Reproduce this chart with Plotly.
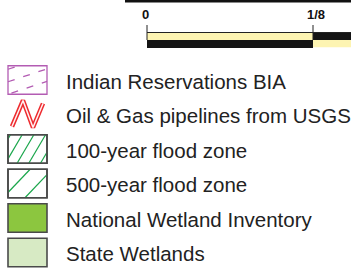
import plotly.graph_objects as go

# ---- data ----
legend_labels = [
    "Indian Reservations BIA",
    "Oil & Gas pipelines from USGS",
    "100-year flood zone",
    "500-year flood zone",
    "National Wetland Inventory",
    "State Wetlands",
]
legend_kinds = ["dashbox", "pipeline", "hatch", "hatch", "solid", "solid"]
legend_colors = ["#b35cb3", "#ee2b2f", "#1aa64b", "#1aa64b", "#8cc63f", "#d7eac4"]
hatch_spacing = [None, None, 11.7, 22, None, None]
hatch_slope = [None, None, 1.7, 1.05, None, None]
hatch_offset = [None, None, -2.6, -5, None, None]

scale_values = [0, 0.125]
scale_labels = ["0", "1/8"]

# ---- layout helpers ----
W, H = 351, 272
SW_X0, SW_X1 = 8, 47
SW_H = 28.5
Y0, DY = 80, 34.5
TEXT_X = 64
SC_X0, SC_PX_PER_UNIT = 147, (313 - 147) / 0.125
BAR_TOP, BAR_MID, BAR_BOT = 32.5, 40, 48

def sx(v):
    return SC_X0 + v * SC_PX_PER_UNIT

fig = go.Figure()
shapes = []
annotations = []

for i, (lab, kind, col) in enumerate(zip(legend_labels, legend_kinds, legend_colors)):
    yc = Y0 + i * DY
    y0, y1 = yc - SW_H / 2, yc + SW_H / 2
    if kind == "solid":
        shapes.append(dict(type="rect", x0=SW_X0, x1=SW_X1, y0=y0, y1=y1,
                           fillcolor=col, line=dict(color="#4a4a4a", width=1.6), layer="below"))
    elif kind == "hatch":
        shapes.append(dict(type="rect", x0=SW_X0, x1=SW_X1, y0=y0, y1=y1,
                           fillcolor="white", line=dict(color="#4a4a4a", width=1.6), layer="above"))
        s, sp = hatch_slope[i], hatch_spacing[i]
        xs, ys = [], []
        c = SW_X0 + hatch_offset[i] - 4 * sp
        while c < SW_X1:
            xa = max(SW_X0, c)
            xb = min(SW_X1, c + (y1 - y0) / s)
            if xb > xa:
                xs += [xa, xb, None]
                ys += [y1 - s * (xa - c), y1 - s * (xb - c), None]
            c += sp
        fig.add_trace(go.Scatter(x=xs, y=ys, mode="lines", line=dict(color=col, width=1.2),
                                 hoverinfo="skip", showlegend=False))
    elif kind == "dashbox":
        shapes.append(dict(type="rect", x0=SW_X0, x1=SW_X1, y0=y0, y1=y1,
                           fillcolor="white", line=dict(color=col, width=1.3), layer="below"))
        slope = -0.33
        for b in [y0 + 3.5, y0 + 16, y0 + 28.5]:
            xs, ys = [], []
            n = 80
            for k in range(n + 1):
                x = SW_X0 + (SW_X1 - SW_X0) * k / n
                y = b + slope * (x - SW_X0)
                if y0 + 1 <= y <= y1 - 1:
                    xs.append(x)
                    ys.append(y)
            if len(xs) > 1:
                fig.add_trace(go.Scatter(x=[xs[0], xs[-1]], y=[ys[0], ys[-1]], mode="lines",
                                         line=dict(color=col, width=1.3, dash="7px,9px"),
                                         hoverinfo="skip", showlegend=False))
    elif kind == "pipeline":
        px = [12, 23, 33, 43]
        py = [yc + 12, yc - 14, yc + 13, yc - 11]
        fig.add_trace(go.Scatter(x=px, y=py, mode="lines",
                                 line=dict(color=col, width=4.5), hoverinfo="skip", showlegend=False))
        fig.add_trace(go.Scatter(x=px, y=py, mode="lines",
                                 line=dict(color="#fff2f2", width=1.5), hoverinfo="skip", showlegend=False))
    annotations.append(dict(x=TEXT_X, y=yc + 1, xref="x", yref="y", text=lab, showarrow=False,
                            xanchor="left", yanchor="middle",
                            font=dict(family="Liberation Sans, Arial", size=20.5, color="#222")))

# hatch box outlines drawn above the hatch lines but with transparent fill
for sh in shapes:
    if sh.get("layer") == "above":
        sh["layer"] = "below"
        shapes.append(dict(type="rect", x0=sh["x0"], x1=sh["x1"], y0=sh["y0"], y1=sh["y1"],
                           fillcolor="rgba(0,0,0,0)", line=dict(color="#4a4a4a", width=1.6)))

# ---- scale bar ----
shapes.append(dict(type="rect", x0=125, x1=W + 5, y0=-1, y1=2.5, fillcolor="#111", line=dict(width=0)))
segs = list(zip(scale_values[:-1] + [scale_values[-1]], scale_values[1:] + [scale_values[-1] * 2]))
for j, (a, b) in enumerate(segs):
    top = "#fdf4b2" if j % 2 == 0 else "#141414"
    bot = "#141414" if j % 2 == 0 else "#fdf4b2"
    shapes.append(dict(type="rect", x0=sx(a), x1=sx(b), y0=BAR_TOP, y1=BAR_MID, fillcolor=top, line=dict(width=0)))
    shapes.append(dict(type="rect", x0=sx(a), x1=sx(b), y0=BAR_MID, y1=BAR_BOT if j % 2 == 0 else BAR_BOT - 0.8,
                       fillcolor=bot, line=dict(width=0)))
shapes.append(dict(type="line", x0=sx(0), x1=sx(0.25), y0=BAR_TOP, y1=BAR_TOP, line=dict(color="#222", width=1)))
for v, lab in zip(scale_values, scale_labels):
    shapes.append(dict(type="line", x0=sx(v), x1=sx(v), y0=25, y1=BAR_MID, line=dict(color="#222", width=1)))
    annotations.append(dict(x=sx(v) - (2 if lab == "0" else -2.5), y=14, xref="x", yref="y", text="<b>%s</b>" % lab,
                            showarrow=False, xanchor="center", yanchor="middle",
                            font=dict(family="Liberation Sans, Arial", size=13, color="#111")))

fig.update_layout(
    width=W, height=H, margin=dict(l=0, r=0, t=0, b=0),
    paper_bgcolor="white", plot_bgcolor="white",
    xaxis=dict(range=[0, W], visible=False, fixedrange=True),
    yaxis=dict(range=[H, 0], visible=False, fixedrange=True),
    shapes=shapes, annotations=annotations, showlegend=False,
)
fig.write_html("out.html", config={"displayModeBar": False},
               post_script="document.body.style.margin='0';document.body.style.padding='0';document.body.style.overflow='hidden';")
